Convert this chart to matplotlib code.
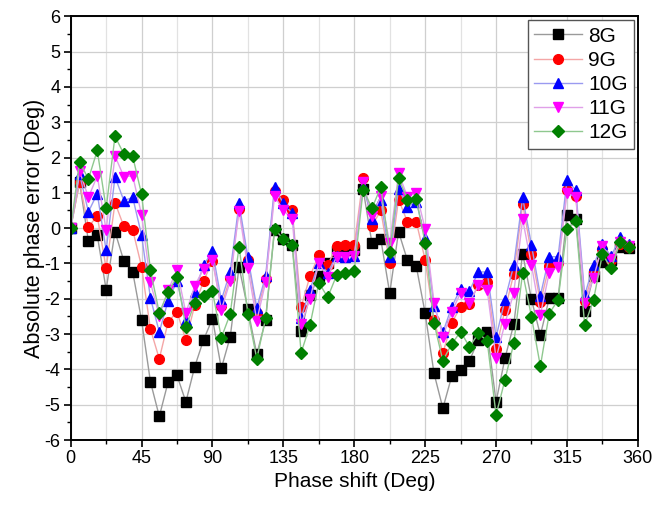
import numpy as np
import matplotlib
matplotlib.use('Agg')
import matplotlib.pyplot as plt
from matplotlib.ticker import MultipleLocator

plt.rcParams['font.family'] = ['Liberation Sans', 'DejaVu Sans']
plt.rcParams['axes.unicode_minus'] = False

# phase states, 5.625 deg step (6-bit shifter)
phase = np.arange(64) * 5.625

err_8g = [0, 1.3, -0.37, -0.2, -1.74, -0.1, -0.93, -1.24, -2.61, -4.35,
          -5.33, -4.35, -4.17, -4.92, -3.92, -3.16, -2.56, -3.97, -3.08, -1.1,
          -2.3, -3.57, -2.6, -0.05, -0.3, -0.48, -2.92, -1.9, -1.36, -1.0,
          -0.65, -0.62, -0.62, 1.1, -0.43, -0.32, -1.84, -0.1, -0.91, -1.08,
          -2.41, -4.11, -5.1, -4.19, -4.02, -3.75, -3.17, -2.93, -4.92, -3.69,
          -2.72, -0.72, -2.02, -3.03, -1.99, -1.99, 0.36, 0.27, -2.35, -1.35,
          -0.95, -0.9, -0.52, -0.55]
err_9g = [0, 1.31, 0.04, 0.34, -1.14, 0.72, 0.05, -0.05, -1.09, -2.86,
          -3.7, -2.65, -2.37, -3.17, -2.18, -1.5, -0.92, -2.2, -1.4, 0.55,
          -0.9, -2.4, -1.45, 1.05, 0.79, 0.51, -2.24, -1.36, -0.76, -1.05,
          -0.51, -0.48, -0.48, 1.41, 0.07, 0.5, -1.0, 0.81, 0.18, 0.18,
          -0.9, -2.6, -3.54, -2.68, -2.23, -2.15, -1.6, -1.52, -3.41, -2.32,
          -1.3, 0.68, -0.72, -2.1, -1.06, -1.0, 1.09, 0.92, -2.05, -1.22,
          -0.6, -0.9, -0.45, -0.52]
err_10g = [0, 1.53, 0.46, 0.98, -0.63, 1.45, 0.78, 0.87, -0.2, -1.98,
           -2.94, -2.05, -1.5, -2.6, -1.8, -1.05, -0.65, -2.04, -1.23, 0.7,
           -0.83, -2.25, -1.35, 1.16, 0.7, 0.42, -2.54, -1.75, -0.98, -1.26,
           -0.78, -0.81, -0.8, 1.2, 0.27, 0.79, -0.81, 1.12, 0.6, 0.75,
           -0.27, -2.2, -2.95, -2.23, -1.71, -1.78, -1.24, -1.24, -3.09, -2.04,
           -1.05, 0.87, -0.48, -1.91, -0.81, -0.81, 1.35, 1.08, -1.9, -1.05,
           -0.45, -0.8, -0.24, -0.45]
err_11g = [0, 1.62, 0.87, 1.48, -0.06, 2.04, 1.46, 1.48, 0.38, -1.53,
           -2.5, -1.75, -1.19, -2.4, -1.63, -1.15, -0.89, -2.31, -1.5, 0.49,
           -1.13, -2.62, -1.52, 0.91, 0.5, 0.27, -2.72, -2.0, -1.0, -1.38,
           -0.81, -0.81, -0.8, 1.31, 0.35, 0.9, -0.43, 1.55, 0.89, 1.0,
           -0.02, -2.11, -3.07, -2.37, -1.83, -2.11, -1.61, -1.75, -3.69, -2.7,
           -1.83, 0.25, -1.05, -2.46, -1.26, -1.09, 0.99, 0.89, -2.13, -1.4,
           -0.5, -0.86, -0.4, -0.5]
err_12g = [0, 1.88, 1.39, 2.2, 0.56, 2.6, 2.1, 2.03, 0.96, -1.19,
           -2.4, -1.8, -1.37, -2.81, -2.11, -1.93, -1.79, -3.1, -2.43, -0.52,
           -2.42, -3.7, -2.55, -0.03, -0.3, -0.49, -3.53, -2.75, -1.54, -1.96,
           -1.34, -1.28, -1.2, 1.09, 0.57, 1.16, -0.67, 1.41, 0.81, 0.83,
           -0.42, -2.69, -3.75, -3.28, -2.93, -3.36, -2.98, -3.19, -5.29, -4.3,
           -3.26, -1.26, -2.51, -3.91, -2.42, -2.03, -0.01, 0.2, -2.75, -2.03,
           -0.74, -1.14, -0.4, -0.53]

labels = ['8G', '9G', '10G', '11G', '12G']
series = [err_8g, err_9g, err_10g, err_11g, err_12g]
colors = ['black', 'red', 'blue', 'magenta', 'green']
line_colors = ['#9a9a9a', '#f4a6a6', '#9a9af0', '#e0a0e8', '#8fc88f']
markers = ['s', 'o', '^', 'v', 'D']
sizes = [6.5, 7, 7.5, 7.5, 6.5]

fig = plt.figure(figsize=(6.7, 5.07), dpi=100)
ax = fig.add_axes([0.1055, 0.132, 0.8465, 0.836])

for y, lab, c, lc, m, s in zip(series, labels, colors, line_colors, markers, sizes):
    ax.plot(phase, y, color=lc, lw=1.0, marker=m, ms=s,
            markerfacecolor=c, markeredgecolor=c, label=lab)

ax.set_xlim(0, 360)
ax.set_ylim(-6, 6)
ax.xaxis.set_major_locator(MultipleLocator(45))
ax.xaxis.set_minor_locator(MultipleLocator(22.5))
ax.yaxis.set_major_locator(MultipleLocator(1))
ax.yaxis.set_minor_locator(MultipleLocator(0.5))

ax.grid(True, which='major', color='#cfcfcf', lw=0.9)
ax.grid(True, which='minor', axis='x', color='#e2e2e2', lw=0.9)
ax.set_axisbelow(True)

ax.tick_params(which='major', direction='out', length=5, width=1.2,
               labelsize=13, pad=2.5)
ax.tick_params(which='minor', direction='out', length=3, width=1.0)
for sp in ax.spines.values():
    sp.set_linewidth(1.4)

ax.set_xlabel('Phase shift (Deg)', fontsize=15, labelpad=3)
ax.set_ylabel('Absolute phase error (Deg)', fontsize=15.5)
ax.yaxis.set_label_coords(-0.046, 0.5)

leg = ax.legend(loc='upper right', fontsize=15, fancybox=False, framealpha=1,
                edgecolor='#555555', handlelength=2.3, labelspacing=0.25,
                borderaxespad=0.2, borderpad=0.3, handletextpad=0.3)
leg.get_frame().set_linewidth(1.0)

fig.savefig('out.png', dpi=100)
